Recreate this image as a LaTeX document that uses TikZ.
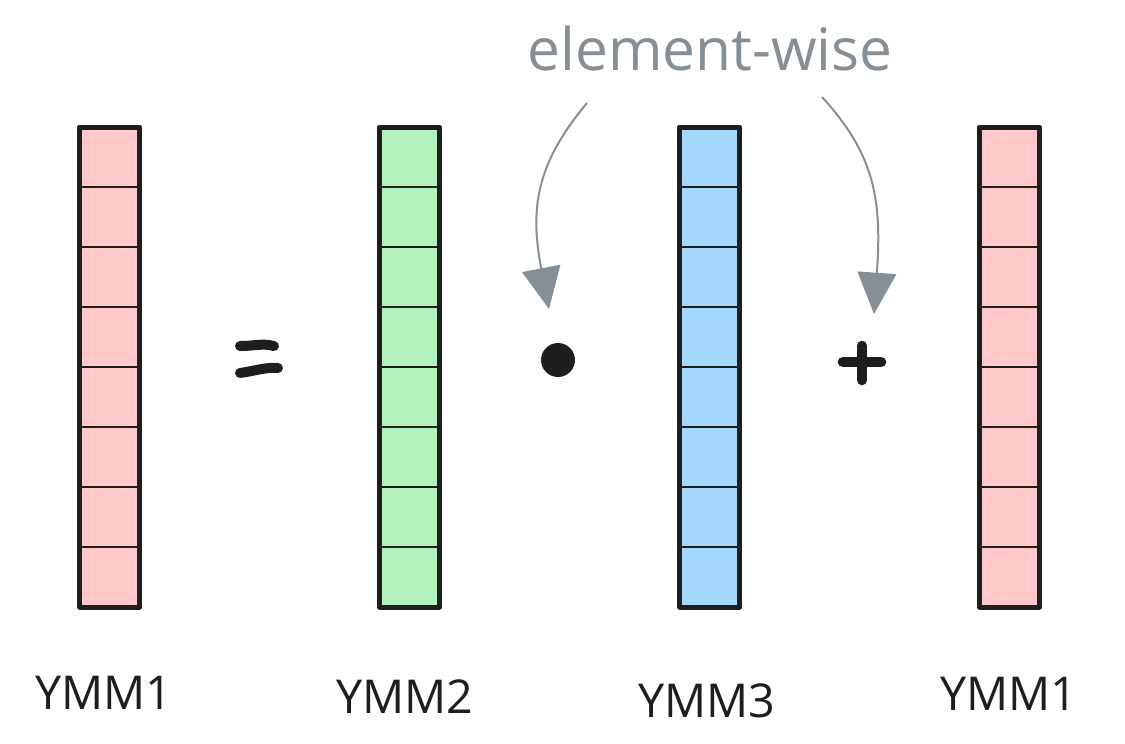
\documentclass[tikz,border=0pt]{standalone}
\usepackage{fontspec}
\setmainfont{Open Sans}
\usetikzlibrary{arrows.meta}
\definecolor{ink}{HTML}{1E1E1E}
\definecolor{pinkc}{HTML}{FFC9C9}
\definecolor{greenc}{HTML}{B2F2BB}
\definecolor{bluec}{HTML}{A5D8FF}
\definecolor{grayc}{HTML}{868E96}
\tikzset{
  regcol/.style={draw=none, rectangle, minimum width=45pt, minimum height=360pt, inner sep=0pt, outer sep=0pt},
  outerline/.style={draw=ink, line width=3.75pt, line join=round},
  cellline/.style={draw=ink, line width=1.5pt},
  lbl/.style={inner sep=0pt, text=ink, font=\fontsize{35}{40}\selectfont},
  ewlbl/.style={inner sep=0pt, text=grayc, font=\fontsize{44}{50}\selectfont},
  opline/.style={draw=ink, line width=7.5pt, line cap=round},
  curvearrow/.style={draw=grayc, line width=1.5pt, -{Triangle[length=31pt, width=29pt, fill=grayc]}}
}
\begin{document}
\begin{tikzpicture}[x=0.75pt, y=-0.75pt]
\useasboundingbox (0,0) rectangle (1125,743);
% columns
\foreach \nm/\cx/\col in {c1/109.5/pinkc, c2/409.5/greenc, c3/709.5/bluec, c4/1009.5/pinkc}{
  \node[regcol, fill=\col] (\nm) at (\cx,367) {};
  \foreach \k in {1,...,7}{
    \draw[cellline] ([yshift=-\k*45pt]\nm.north west) -- ([yshift=-\k*45pt]\nm.north east);
  }
  \draw[outerline] (\nm.north west) rectangle (\nm.south east);
}
% labels
\node[lbl] (l1) at (104,693) {YMM1};
\node[lbl] (l2) at (405,697) {YMM2};
\node[lbl] (l3) at (707,701) {YMM3};
\node[lbl] (l4) at (1009,694) {YMM1};
% equals
\draw[opline] (240,346) .. controls (255,346) and (262,343) .. (274,346);
\draw[opline] (240,373) .. controls (255,371) and (265,367) .. (278,368);
% dot
\fill[ink] (558,360) circle (12.75pt);
% plus
\draw[opline, line width=8pt] (843,362) -- (881,362);
\draw[opline, line width=8pt] (862,346) -- (862,380);
% element-wise
\node[ewlbl] (ew) at (710,48) {element-wise};
\coordinate (s1) at (587,103);
\coordinate (t1) at (549,309);
\coordinate (s2) at (822,97);
\coordinate (t2) at (874,314);
\draw[curvearrow] (s1) .. controls (535,165) and (530,210) .. (t1);
\draw[curvearrow] (s2) .. controls (875,155) and (882,200) .. (t2);
\end{tikzpicture}
\end{document}
